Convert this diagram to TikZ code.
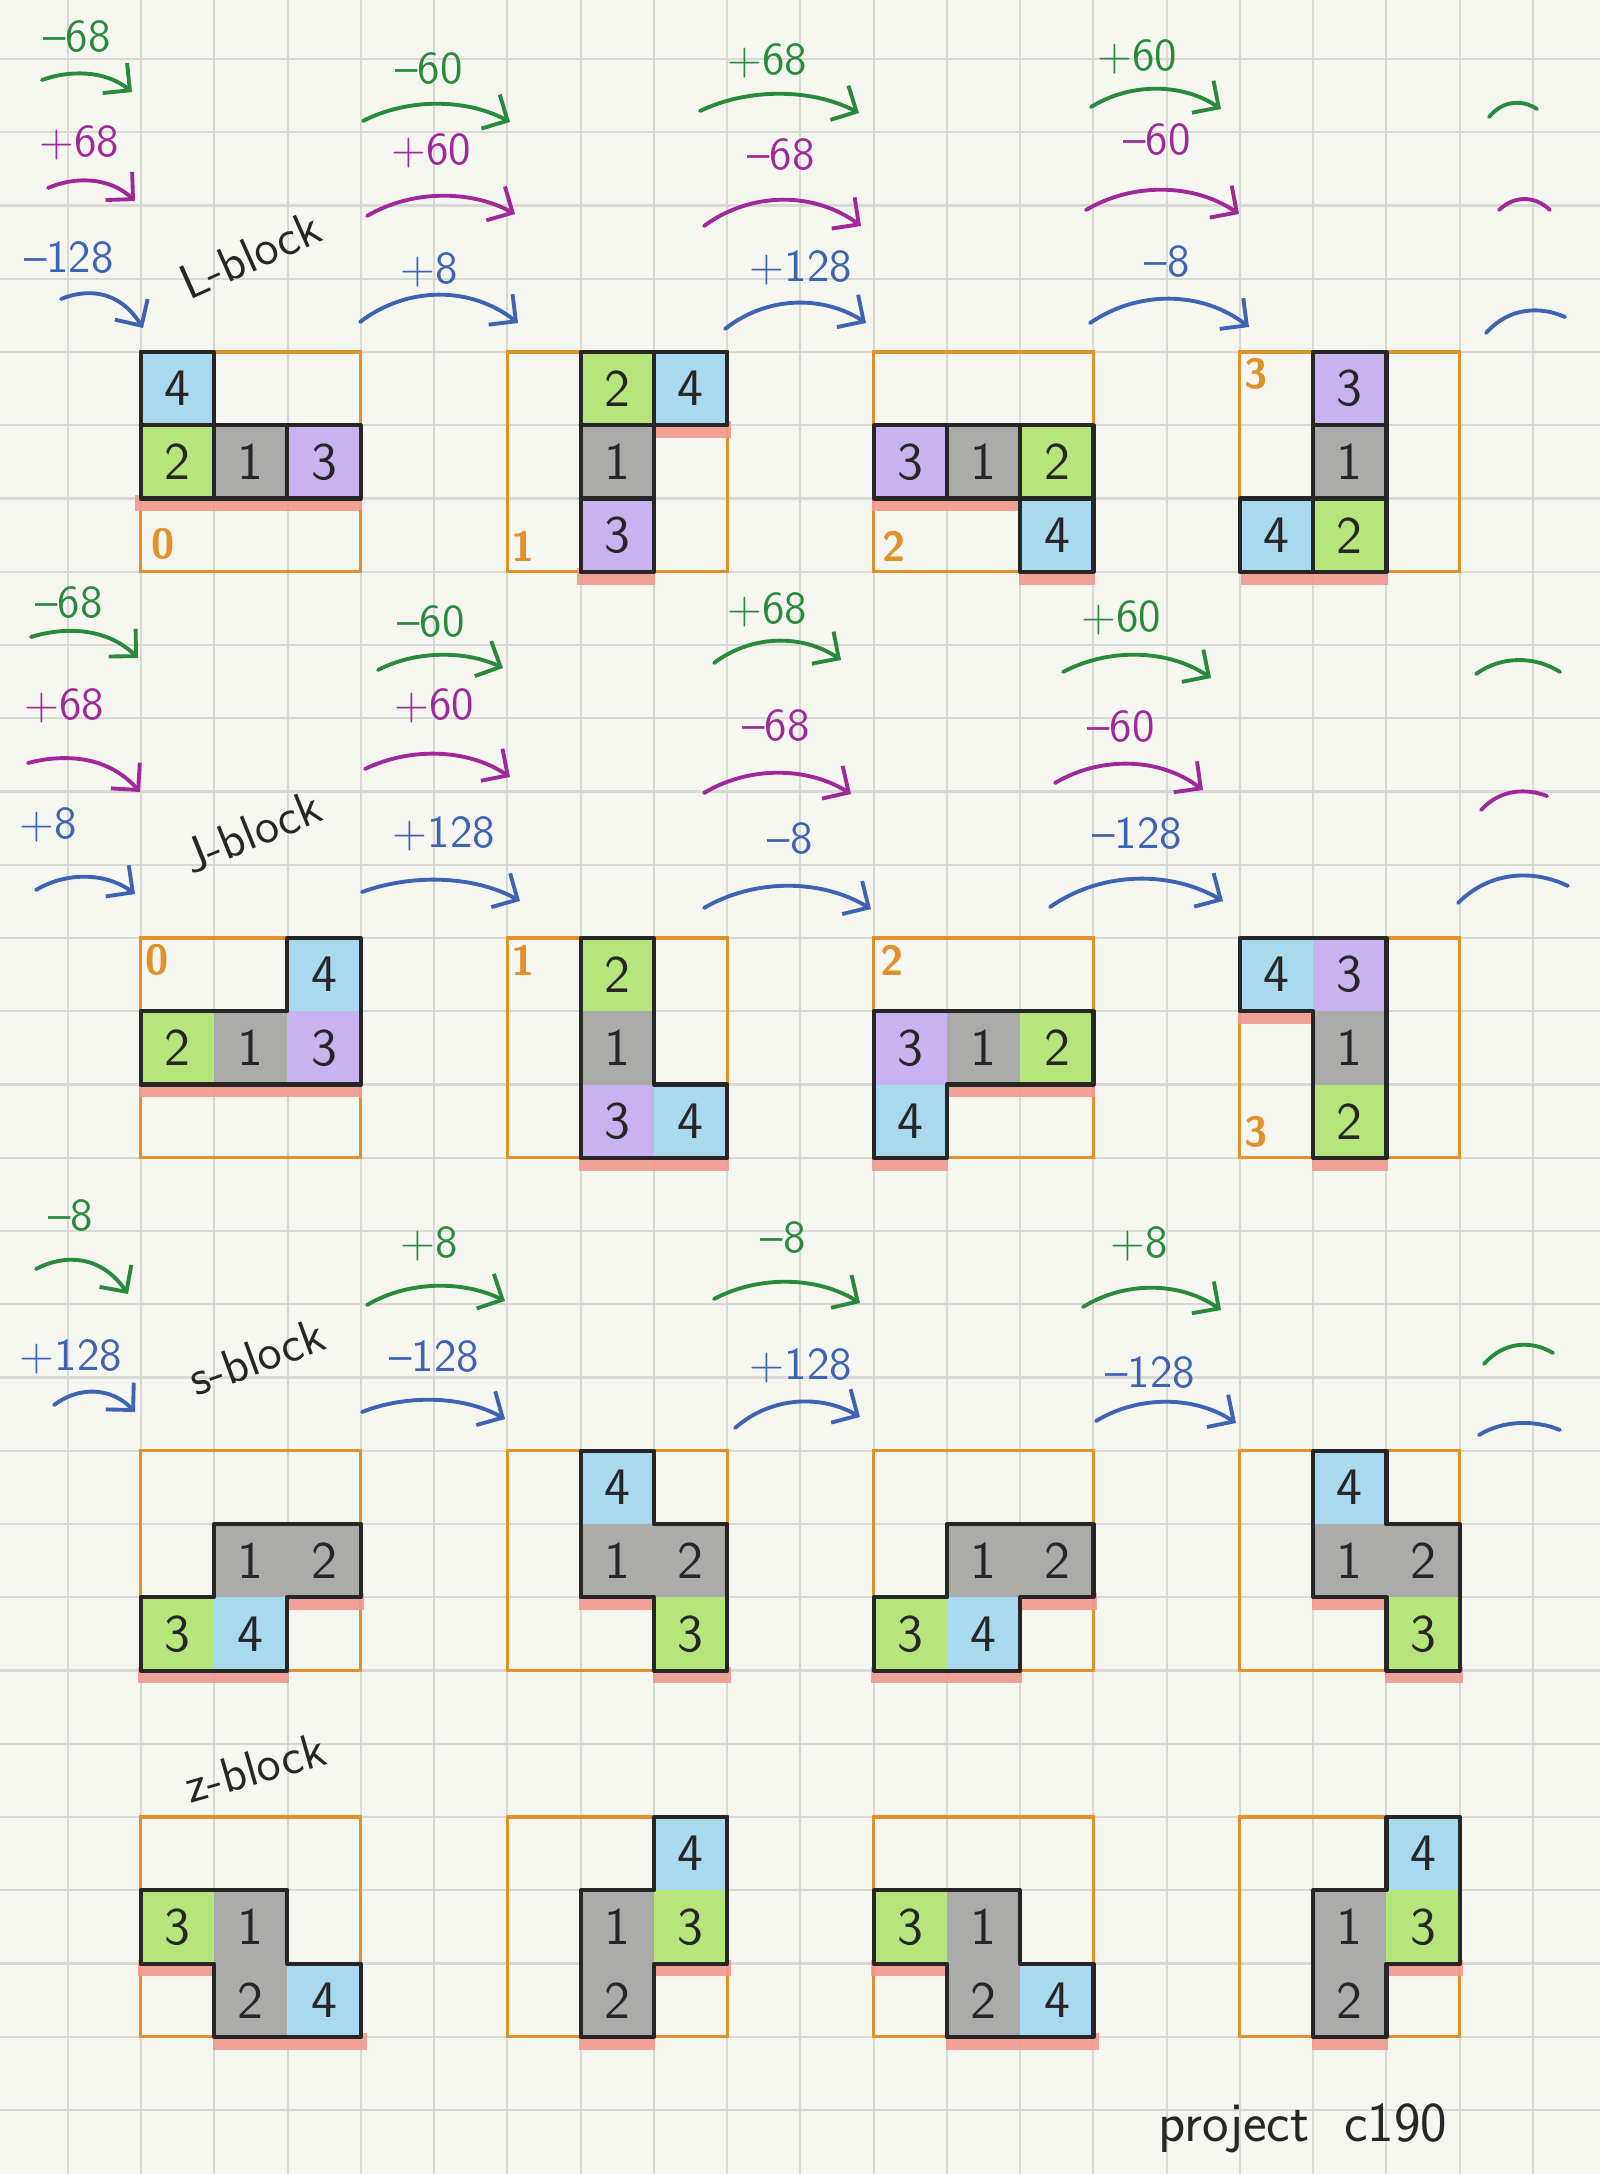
\documentclass[tikz,border=0pt]{standalone}
\usetikzlibrary{arrows.meta}
\definecolor{paper}{HTML}{F6F6F1}
\definecolor{gridc}{HTML}{D8D9D4}
\definecolor{orng}{HTML}{E0912A}
\definecolor{cblue}{HTML}{A9D9EE}
\definecolor{cgreen}{HTML}{B6E57C}
\definecolor{cgray}{HTML}{ABABA9}
\definecolor{cpurp}{HTML}{C9B2F0}
\definecolor{ured}{HTML}{F29890}
\definecolor{pgreen}{HTML}{2A8A3C}
\definecolor{ppurp}{HTML}{A0299A}
\definecolor{pblue}{HTML}{3E63B2}
\tikzset{
  gridl/.style={gridc, line width=0.6pt},
  boxnode/.style={draw=orng, line width=0.9pt, minimum size=2.1975cm, inner sep=0pt, outer sep=0pt},
  cellnode/.style={minimum size=0.7325cm, inner sep=0pt, outer sep=0pt, font=\sffamily\fontsize{15}{15}\selectfont, text=black!85},
  outl/.style={black!85, line width=1.2pt, line join=round, line cap=round},
  uline/.style={ured, line width=4.8pt, opacity=0.9},
  stlabel/.style={text=orng, font=\sffamily\bfseries\fontsize{12}{12}\selectfont, inner sep=0pt},
  lbl/.style={font=\sffamily\fontsize{13}{13}\selectfont, inner sep=1pt},
  blocklbl/.style={font=\sffamily\fontsize{14}{14}\selectfont, text=black!85, inner sep=1pt},
  pen/.style={line width=1.1pt, line cap=round},
  tipped/.style={pen, -{Straight Barb[length=5.5pt,width=11pt]}},
  garr/.style={tipped, pgreen}, parr/.style={tipped, ppurp}, barr/.style={tipped, pblue},
  garc/.style={pen, pgreen}, parc/.style={pen, ppurp}, barc/.style={pen, pblue},
}
% hand arc: style, start name, end name, Ax, Ay, Bx, By, peak y
\newcommand\harc[8]{\coordinate (#2) at (#4,#5); \coordinate (#3) at (#6,#7);
  \draw[#1] (#2) .. controls ({#4+0.3*(#6-#4)},{(#8-(#5+#7)/8)/0.75}) and ({#4+0.7*(#6-#4)},{(#8-(#5+#7)/8)/0.75}) .. (#3);}
\newcommand\pbox[1]{\node[boxnode] (#1box) at (1.5,1.5) {};}
\newcommand\Sflat[1]{\pbox{#1}
  \draw[uline] (-0.04,3.06) -- (2.02,3.06); \draw[uline] (1.98,2.06) -- (3.05,2.06);
  \node[cellnode,fill=cgray] (#1c1) at (1.5,1.5) {1};
  \node[cellnode,fill=cgray] (#1c2) at (2.5,1.5) {2};
  \node[cellnode,fill=cgreen] (#1c3) at (0.5,2.5) {3};
  \node[cellnode,fill=cblue] (#1c4) at (1.5,2.5) {4};
  \draw[outl] (1,1) -- (3,1) -- (3,2) -- (2,2) -- (2,3) -- (0,3) -- (0,2) -- (1,2) -- cycle;}
\newcommand\Supr[1]{\pbox{#1}
  \draw[uline] (0.98,2.06) -- (2.02,2.06); \draw[uline] (1.98,3.06) -- (3.05,3.06);
  \node[cellnode,fill=cblue] (#1c4) at (1.5,0.5) {4};
  \node[cellnode,fill=cgray] (#1c1) at (1.5,1.5) {1};
  \node[cellnode,fill=cgray] (#1c2) at (2.5,1.5) {2};
  \node[cellnode,fill=cgreen] (#1c3) at (2.5,2.5) {3};
  \draw[outl] (1,0) -- (2,0) -- (2,1) -- (3,1) -- (3,3) -- (2,3) -- (2,2) -- (1,2) -- cycle;}
\newcommand\Zflat[1]{\pbox{#1}
  \draw[uline] (-0.04,2.06) -- (1.02,2.06); \draw[uline] (0.98,3.06) -- (3.08,3.06);
  \node[cellnode,fill=cgreen] (#1c3) at (0.5,1.5) {3};
  \node[cellnode,fill=cgray] (#1c1) at (1.5,1.5) {1};
  \node[cellnode,fill=cgray] (#1c2) at (1.5,2.5) {2};
  \node[cellnode,fill=cblue] (#1c4) at (2.5,2.5) {4};
  \draw[outl] (0,1) -- (2,1) -- (2,2) -- (3,2) -- (3,3) -- (1,3) -- (1,2) -- (0,2) -- cycle;}
\newcommand\Zupr[1]{\pbox{#1}
  \draw[uline] (1.98,2.06) -- (3.05,2.06); \draw[uline] (0.98,3.06) -- (2.02,3.06);
  \node[cellnode,fill=cblue] (#1c4) at (2.5,0.5) {4};
  \node[cellnode,fill=cgreen] (#1c3) at (2.5,1.5) {3};
  \node[cellnode,fill=cgray] (#1c1) at (1.5,1.5) {1};
  \node[cellnode,fill=cgray] (#1c2) at (1.5,2.5) {2};
  \draw[outl] (2,0) -- (3,0) -- (3,2) -- (2,2) -- (2,3) -- (1,3) -- (1,1) -- (2,1) -- cycle;}
\begin{document}
\begin{tikzpicture}[x=0.01cm, y=-0.01cm]
\fill[paper] (0,0) rectangle (1600,2174);
\useasboundingbox (0,0) rectangle (1600,2174);
\foreach \k in {1,...,21} \draw[gridl] ({-5.35+73.25*\k},0) -- ({-5.35+73.25*\k},2174);
\foreach \j in {0,...,28} \draw[gridl] (0,{59+73.25*\j}) -- (1600,{59+73.25*\j});

% ================= L-block =================
\begin{scope}[shift={(140.8,352)}, x=0.7325cm, y=-0.7325cm]
  \pbox{L0}
  \draw[uline] (-0.08,2.06) -- (3.02,2.06);
  \node[cellnode,fill=cblue] (L0c4) at (0.5,0.5) {4};
  \node[cellnode,fill=cgreen] (L0c2) at (0.5,1.5) {2};
  \node[cellnode,fill=cgray] (L0c1) at (1.5,1.5) {1};
  \node[cellnode,fill=cpurp] (L0c3) at (2.5,1.5) {3};
  \draw[outl] (0,0) -- (1,0) -- (1,1) -- (3,1) -- (3,2) -- (0,2) -- cycle;
  \draw[outl] (0,1) -- (1,1) (1,1) -- (1,2) (2,1) -- (2,2);
  \node[stlabel] (L0s) at (0.3,2.62) {0};
\end{scope}
\begin{scope}[shift={(507.4,352)}, x=0.7325cm, y=-0.7325cm]
  \pbox{L1}
  \draw[uline] (1.98,1.06) -- (3.05,1.06); \draw[uline] (0.95,3.06) -- (2.02,3.06);
  \node[cellnode,fill=cgreen] (L1c2) at (1.5,0.5) {2};
  \node[cellnode,fill=cblue] (L1c4) at (2.5,0.5) {4};
  \node[cellnode,fill=cgray] (L1c1) at (1.5,1.5) {1};
  \node[cellnode,fill=cpurp] (L1c3) at (1.5,2.5) {3};
  \draw[outl] (1,0) -- (3,0) -- (3,1) -- (2,1) -- (2,3) -- (1,3) -- cycle;
  \draw[outl] (2,0) -- (2,1) (1,1) -- (2,1) (1,2) -- (2,2);
  \node[stlabel] (L1s) at (0.22,2.65) {1};
\end{scope}
\begin{scope}[shift={(873.7,352)}, x=0.7325cm, y=-0.7325cm]
  \pbox{L2}
  \draw[uline] (-0.02,2.06) -- (2.02,2.06); \draw[uline] (1.98,3.06) -- (3.02,3.06);
  \node[cellnode,fill=cpurp] (L2c3) at (0.5,1.5) {3};
  \node[cellnode,fill=cgray] (L2c1) at (1.5,1.5) {1};
  \node[cellnode,fill=cgreen] (L2c2) at (2.5,1.5) {2};
  \node[cellnode,fill=cblue] (L2c4) at (2.5,2.5) {4};
  \draw[outl] (0,1) -- (3,1) -- (3,3) -- (2,3) -- (2,2) -- (0,2) -- cycle;
  \draw[outl] (1,1) -- (1,2) (2,1) -- (2,2) (2,2) -- (3,2);
  \node[stlabel] (L2s) at (0.28,2.65) {2};
\end{scope}
\begin{scope}[shift={(1239.9,352)}, x=0.7325cm, y=-0.7325cm]
  \pbox{L3}
  \draw[uline] (0.02,3.06) -- (2.02,3.06);
  \node[cellnode,fill=cpurp] (L3c3) at (1.5,0.5) {3};
  \node[cellnode,fill=cgray] (L3c1) at (1.5,1.5) {1};
  \node[cellnode,fill=cgreen] (L3c2) at (1.5,2.5) {2};
  \node[cellnode,fill=cblue] (L3c4) at (0.5,2.5) {4};
  \draw[outl] (1,0) -- (2,0) -- (2,3) -- (0,3) -- (0,2) -- (1,2) -- cycle;
  \draw[outl] (1,1) -- (2,1) (1,2) -- (2,2) (1,2) -- (1,3);
  \node[stlabel] (L3s) at (0.22,0.3) {3};
\end{scope}

% ================= J-block =================
\begin{scope}[shift={(140.8,938)}, x=0.7325cm, y=-0.7325cm]
  \pbox{J0}
  \draw[uline] (-0.02,2.06) -- (3.02,2.06);
  \node[cellnode,fill=cblue] (J0c4) at (2.5,0.5) {4};
  \node[cellnode,fill=cgreen] (J0c2) at (0.5,1.5) {2};
  \node[cellnode,fill=cgray] (J0c1) at (1.5,1.5) {1};
  \node[cellnode,fill=cpurp] (J0c3) at (2.5,1.5) {3};
  \draw[outl] (2,0) -- (3,0) -- (3,2) -- (0,2) -- (0,1) -- (2,1) -- cycle;
  \node[stlabel] (J0s) at (0.22,0.3) {0};
\end{scope}
\begin{scope}[shift={(507.4,938)}, x=0.7325cm, y=-0.7325cm]
  \pbox{J1}
  \draw[uline] (0.98,3.06) -- (3.02,3.06);
  \node[cellnode,fill=cgreen] (J1c2) at (1.5,0.5) {2};
  \node[cellnode,fill=cgray] (J1c1) at (1.5,1.5) {1};
  \node[cellnode,fill=cpurp] (J1c3) at (1.5,2.5) {3};
  \node[cellnode,fill=cblue] (J1c4) at (2.5,2.5) {4};
  \draw[outl] (1,0) -- (2,0) -- (2,2) -- (3,2) -- (3,3) -- (1,3) -- cycle;
  \node[stlabel] (J1s) at (0.22,0.3) {1};
\end{scope}
\begin{scope}[shift={(873.7,938)}, x=0.7325cm, y=-0.7325cm]
  \pbox{J2}
  \draw[uline] (0.98,2.06) -- (3.02,2.06); \draw[uline] (-0.02,3.06) -- (1.02,3.06);
  \node[cellnode,fill=cpurp] (J2c3) at (0.5,1.5) {3};
  \node[cellnode,fill=cgray] (J2c1) at (1.5,1.5) {1};
  \node[cellnode,fill=cgreen] (J2c2) at (2.5,1.5) {2};
  \node[cellnode,fill=cblue] (J2c4) at (0.5,2.5) {4};
  \draw[outl] (0,1) -- (3,1) -- (3,2) -- (1,2) -- (1,3) -- (0,3) -- cycle;
  \node[stlabel] (J2s) at (0.25,0.3) {2};
\end{scope}
\begin{scope}[shift={(1239.9,938)}, x=0.7325cm, y=-0.7325cm]
  \pbox{J3}
  \draw[uline] (-0.02,1.06) -- (1.02,1.06); \draw[uline] (0.98,3.06) -- (2.02,3.06);
  \node[cellnode,fill=cblue] (J3c4) at (0.5,0.5) {4};
  \node[cellnode,fill=cpurp] (J3c3) at (1.5,0.5) {3};
  \node[cellnode,fill=cgray] (J3c1) at (1.5,1.5) {1};
  \node[cellnode,fill=cgreen] (J3c2) at (1.5,2.5) {2};
  \draw[outl] (0,0) -- (2,0) -- (2,3) -- (1,3) -- (1,1) -- (0,1) -- cycle;
  \node[stlabel] (J3s) at (0.22,2.65) {3};
\end{scope}

% ================= S-block =================
\begin{scope}[shift={(140.8,1450.75)}, x=0.7325cm, y=-0.7325cm] \Sflat{S0} \end{scope}
\begin{scope}[shift={(507.4,1450.75)}, x=0.7325cm, y=-0.7325cm] \Supr{S1} \end{scope}
\begin{scope}[shift={(873.7,1450.75)}, x=0.7325cm, y=-0.7325cm] \Sflat{S2} \end{scope}
\begin{scope}[shift={(1239.9,1450.75)}, x=0.7325cm, y=-0.7325cm] \Supr{S3} \end{scope}

% ================= Z-block =================
\begin{scope}[shift={(140.8,1817)}, x=0.7325cm, y=-0.7325cm] \Zflat{Z0} \end{scope}
\begin{scope}[shift={(507.4,1817)}, x=0.7325cm, y=-0.7325cm] \Zupr{Z1} \end{scope}
\begin{scope}[shift={(873.7,1817)}, x=0.7325cm, y=-0.7325cm] \Zflat{Z2} \end{scope}
\begin{scope}[shift={(1239.9,1817)}, x=0.7325cm, y=-0.7325cm] \Zupr{Z3} \end{scope}

% ================= block names =================
\node[blocklbl, rotate=24] (Lname) at (250,255) {L-block};
\node[blocklbl, rotate=22] (Jname) at (252,832) {J-block};
\node[blocklbl, rotate=20] (Sname) at (257,1357) {s-block};
\node[blocklbl, rotate=16] (Zname) at (255,1768) {z-block};
\node[blocklbl, font=\sffamily\fontsize{16}{16}\selectfont] (proj) at (1303,2128) {project\ \ c190};

% ================= L row labels / arrows =================
\node[lbl,text=pgreen] (tL0g) at (77,37) {--68};
\node[lbl,text=ppurp] (tL0p) at (79,143) {+68};
\node[lbl,text=pblue]  (tL0b) at (69,258) {--128};
\harc{garr}{aL0gs}{aL0ge}{42}{80}{132}{92}{74}
\harc{parr}{aL0ps}{aL0pe}{48}{188}{135}{201}{181}
\harc{barr}{aL0bs}{aL0be}{61}{299}{143}{328}{295}

\node[lbl,text=pgreen] (tL1g) at (429,69) {--60};
\node[lbl,text=ppurp] (tL1p) at (431,151) {+60};
\node[lbl,text=pblue]  (tL1b) at (429,270) {+8};
\harc{garr}{aL1gs}{aL1ge}{363}{121}{510}{122}{104}
\harc{parr}{aL1ps}{aL1pe}{367}{216}{515}{214}{196}
\harc{barr}{aL1bs}{aL1be}{360}{322}{518}{323}{295}

\node[lbl,text=pgreen] (tL2g) at (767,61) {+68};
\node[lbl,text=ppurp] (tL2p) at (781,155) {--68};
\node[lbl,text=pblue]  (tL2b) at (801,268) {+128};
\harc{garr}{aL2gs}{aL2ge}{700}{111}{859}{113}{94}
\harc{parr}{aL2ps}{aL2pe}{704}{226}{861}{226}{200}
\harc{barr}{aL2bs}{aL2be}{725}{329}{866}{323}{303}

\node[lbl,text=pgreen] (tL3g) at (1137,57) {+60};
\node[lbl,text=ppurp] (tL3p) at (1157,140) {--60};
\node[lbl,text=pblue]  (tL3b) at (1167,262) {--8};
\harc{garr}{aL3gs}{aL3ge}{1091}{107}{1221}{109}{89}
\harc{parr}{aL3ps}{aL3pe}{1086}{210}{1239}{214}{190}
\harc{barr}{aL3bs}{aL3be}{1090}{323}{1249}{327}{299}

\harc{garc}{aL4gs}{aL4ge}{1489}{117}{1537}{109}{103}
\harc{parc}{aL4ps}{aL4pe}{1499}{210}{1550}{210}{199}
\harc{barc}{aL4bs}{aL4be}{1486}{333}{1565}{317}{311}

% ================= J row labels / arrows =================
\node[lbl,text=pgreen] (tJ0g) at (69,603) {--68};
\node[lbl,text=ppurp] (tJ0p) at (64,706) {+68};
\node[lbl,text=pblue]  (tJ0b) at (48,825) {+8};
\harc{garr}{aJ0gs}{aJ0ge}{31}{637}{138}{658}{632}
\harc{parr}{aJ0ps}{aJ0pe}{28}{763}{140}{792}{760}
\harc{barr}{aJ0bs}{aJ0be}{36}{890}{135}{894}{877}

\node[lbl,text=pgreen] (tJ1g) at (431,622) {--60};
\node[lbl,text=ppurp] (tJ1p) at (434,706) {+60};
\node[lbl,text=pblue]  (tJ1b) at (444,834) {+128};
\harc{garr}{aJ1gs}{aJ1ge}{378}{670}{503}{668}{655}
\harc{parr}{aJ1ps}{aJ1pe}{365}{769}{510}{777}{754}
\harc{barr}{aJ1bs}{aJ1be}{362}{892}{520}{901}{880}

\node[lbl,text=pgreen] (tJ2g) at (767,610) {+68};
\node[lbl,text=ppurp] (tJ2p) at (776,726) {--68};
\node[lbl,text=pblue]  (tJ2b) at (790,839) {--8};
\harc{garr}{aJ2gs}{aJ2ge}{714}{663}{841}{660}{641}
\harc{parr}{aJ2ps}{aJ2pe}{704}{793}{851}{794}{773}
\harc{barr}{aJ2bs}{aJ2be}{704}{908}{871}{909}{886}

\node[lbl,text=pgreen] (tJ3g) at (1121,618) {+60};
\node[lbl,text=ppurp] (tJ3p) at (1121,727) {--60};
\node[lbl,text=pblue]  (tJ3b) at (1137,834) {--128};
\harc{garr}{aJ3gs}{aJ3ge}{1063}{672}{1211}{678}{655}
\harc{parr}{aJ3ps}{aJ3pe}{1055}{783}{1203}{790}{764}
\harc{barr}{aJ3bs}{aJ3be}{1050}{907}{1223}{901}{879}

\harc{garc}{aJ4gs}{aJ4ge}{1476}{674}{1560}{672}{660}
\harc{parc}{aJ4ps}{aJ4pe}{1481}{810}{1547}{796}{792}
\harc{barc}{aJ4bs}{aJ4be}{1458}{903}{1568}{886}{876}

% ================= S row labels / arrows =================
\node[lbl,text=pgreen] (tS0g) at (71,1216) {--8};
\node[lbl,text=pblue]  (tS0b) at (71,1357) {+128};
\harc{garr}{aS0gs}{aS0ge}{36}{1269}{128}{1294}{1261}
\harc{barr}{aS0bs}{aS0be}{54}{1405}{135}{1412}{1392}

\node[lbl,text=pgreen] (tS1g) at (429,1244) {+8};
\node[lbl,text=pblue]  (tS1b) at (434,1357) {--128};
\harc{garr}{aS1gs}{aS1ge}{367}{1305}{505}{1301}{1286}
\harc{barr}{aS1bs}{aS1be}{362}{1412}{505}{1419}{1400}

\node[lbl,text=pgreen] (tS2g) at (783,1238) {--8};
\node[lbl,text=pblue]  (tS2b) at (801,1366) {+128};
\harc{garr}{aS2gs}{aS2ge}{714}{1299}{860}{1303}{1282}
\harc{barr}{aS2bs}{aS2be}{735}{1428}{860}{1417}{1402}

\node[lbl,text=pgreen] (tS3g) at (1139,1244) {+8};
\node[lbl,text=pblue]  (tS3b) at (1150,1373) {--128};
\harc{garr}{aS3gs}{aS3ge}{1083}{1307}{1221}{1310}{1288}
\harc{barr}{aS3bs}{aS3be}{1096}{1421}{1236}{1423}{1402}

\harc{garc}{aS4gs}{aS4ge}{1484}{1364}{1553}{1353}{1345}
\harc{barc}{aS4bs}{aS4be}{1479}{1435}{1560}{1430}{1423}
\end{tikzpicture}
\end{document}
